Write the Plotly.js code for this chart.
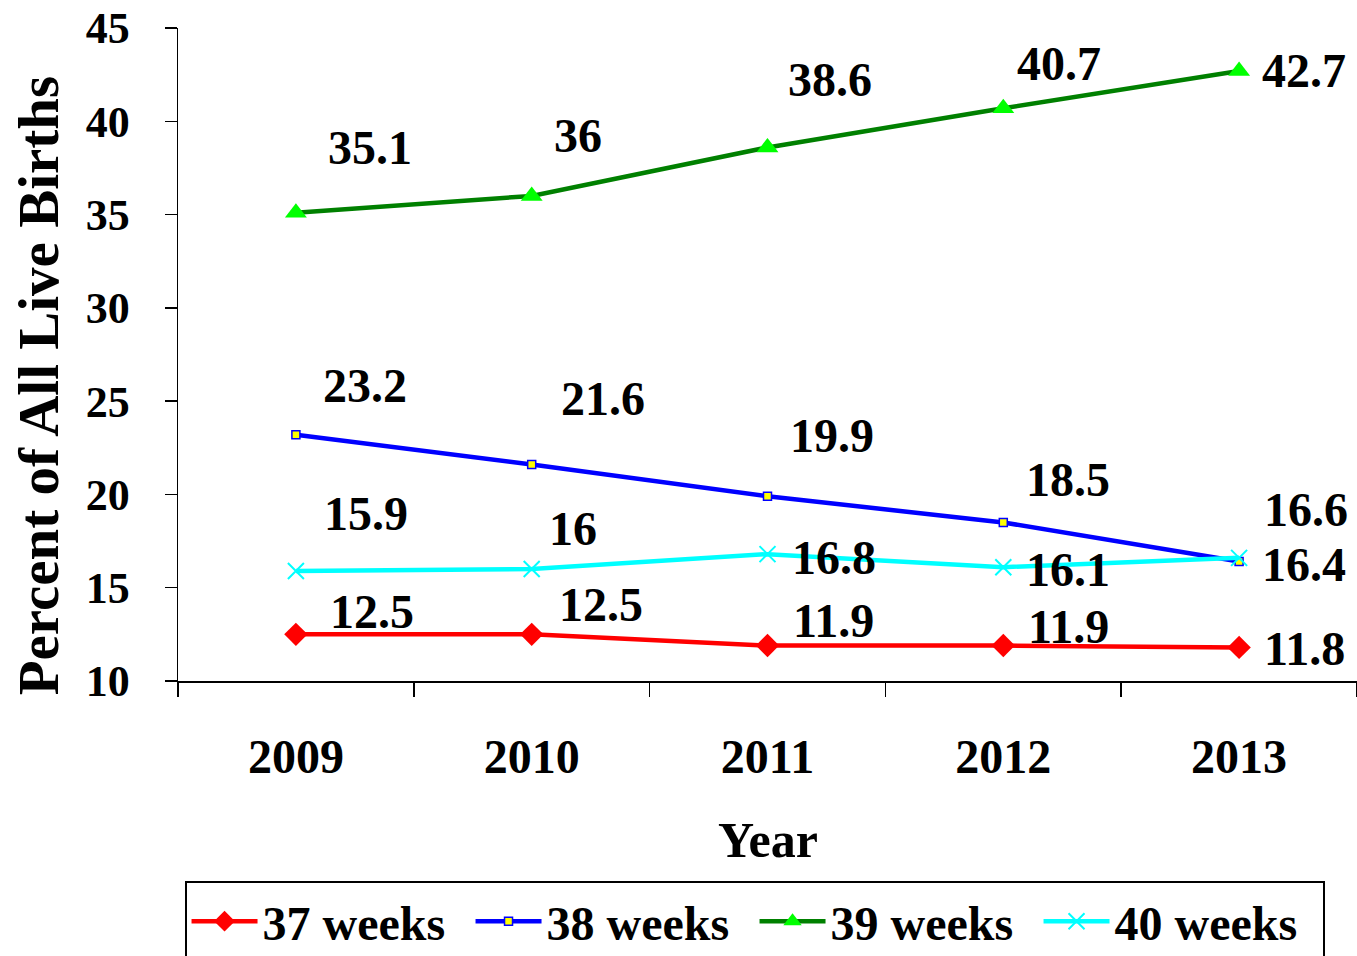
<!DOCTYPE html>
<html>
<head>
<meta charset="utf-8">
<script src="https://cdn.plot.ly/plotly-3.0.1.min.js"></script>
<style>html,body{margin:0;padding:0;background:#fff;}#chart{width:1357px;height:956px;}</style>
</head>
<body>
<div id="chart"></div>
<script>
const years = ['2009', '2010', '2011', '2012', '2013'];
const seriesNames = ['37 weeks', '38 weeks', '39 weeks', '40 weeks'];
const weeks37 = [12.5, 12.5, 11.9, 11.9, 11.8];
const weeks38 = [23.2, 21.6, 19.9, 18.5, 16.4];
const weeks39 = [35.1, 36, 38.6, 40.7, 42.7];
const weeks40 = [15.9, 16, 16.8, 16.1, 16.6];
const yTicks = [10, 15, 20, 25, 30, 35, 40, 45];

// label placement (pixel shifts of each data label from its point)
const labelShift = {
  w37: [[76, -23], [69, -30], [66, -25], [65, -19], [65, 1]],
  w38: [[69, -49], [71, -66], [64, -61], [65, -43], [65, 3]],
  w39: [[74, -65], [46, -60], [62, -68], [56, -45], [65, 0]],
  w40: [[70, -57], [41, -41], [66, 3], [65, 2], [67, -48]]
};

const FONT = 'Liberation Serif, Times New Roman, serif';

const traces = [
  {name: seriesNames[0], x: years, y: weeks37, mode: 'lines+markers',
   line: {color: '#FF0000', width: 4.5},
   marker: {symbol: 'diamond', size: 18, color: '#FF0000'}},
  {name: seriesNames[1], x: years, y: weeks38, mode: 'lines+markers',
   line: {color: '#0000FF', width: 4.5},
   marker: {symbol: 'square', size: 8, color: '#FFFF00', line: {color: '#0000FF', width: 1.5}}},
  {name: seriesNames[2], x: years, y: weeks39, mode: 'lines+markers',
   line: {color: '#008000', width: 4.5},
   marker: {symbol: 'triangle-up', size: 19, color: '#00FF00', line: {width: 0}}},
  {name: seriesNames[3], x: years, y: weeks40, mode: 'lines+markers',
   line: {color: '#00FFFF', width: 4.5},
   marker: {symbol: 'x-thin', size: 16, color: '#00FFFF', line: {color: '#00FFFF', width: 2}}}
];

const annotations = [];
function addLabels(vals, shifts) {
  vals.forEach((v, i) => {
    annotations.push({
      x: i, y: v, xref: 'x', yref: 'y', text: String(v), showarrow: false,
      xshift: shifts[i][0], yshift: -shifts[i][1], xanchor: 'center', yanchor: 'middle',
      font: {family: FONT, size: 48, color: '#000', weight: 'bold'}
    });
  });
}
addLabels(weeks37, labelShift.w37);
addLabels(weeks38, labelShift.w38);
addLabels(weeks39, labelShift.w39);
addLabels(weeks40, labelShift.w40);

annotations.push({
  text: 'Year', xref: 'paper', yref: 'paper', x: 0.5, y: -0.2435,
  xanchor: 'center', yanchor: 'middle', showarrow: false,
  font: {family: FONT, size: 50, color: '#000', weight: 'bold'}
});
annotations.push({
  text: 'Percent of All Live Births', xref: 'paper', yref: 'paper', x: -0.1186, y: 0.453,
  xanchor: 'center', yanchor: 'middle', showarrow: false, textangle: -90,
  font: {family: FONT, size: 57, color: '#000', weight: 'bold'}
});

const layout = {
  width: 1357, height: 956,
  margin: {l: 178, r: 0, t: 28, b: 275, autoexpand: false},
  paper_bgcolor: '#fff', plot_bgcolor: '#fff',
  showlegend: true,
  font: {family: FONT, color: '#000'},
  xaxis: {
    type: 'category', range: [-0.5, 4.5], showgrid: false, zeroline: false,
    showline: true, linecolor: '#000', linewidth: 1.5,
    ticks: 'outside', ticklen: 14, tickwidth: 1.5, tickcolor: '#000',
    tickson: 'boundaries', ticklabelstandoff: 33,
    tickfont: {family: FONT, size: 48, color: '#000', weight: 'bold'}
  },
  yaxis: {
    range: [10, 45], tickvals: yTicks, ticktext: yTicks.map(String),
    showgrid: false, zeroline: false,
    showline: true, linecolor: '#000', linewidth: 1.5,
    ticks: 'outside', ticklen: 12, tickwidth: 1.5, tickcolor: '#000',
    ticklabelstandoff: 26,
    tickfont: {family: FONT, size: 44, color: '#000', weight: 'bold'}
  },
  legend: {
    orientation: 'h', x: 0.489, xanchor: 'center', y: -0.307, yanchor: 'top',
    bordercolor: '#000', borderwidth: 2, bgcolor: '#fff',
    font: {family: FONT, size: 48, color: '#000', weight: 'bold'},
    itemwidth: 66, entrywidth: 203, tracegroupgap: 0
  },
  annotations: annotations
};

Plotly.newPlot('chart', traces, layout, {displayModeBar: false, staticPlot: true});
</script>
</body>
</html>
